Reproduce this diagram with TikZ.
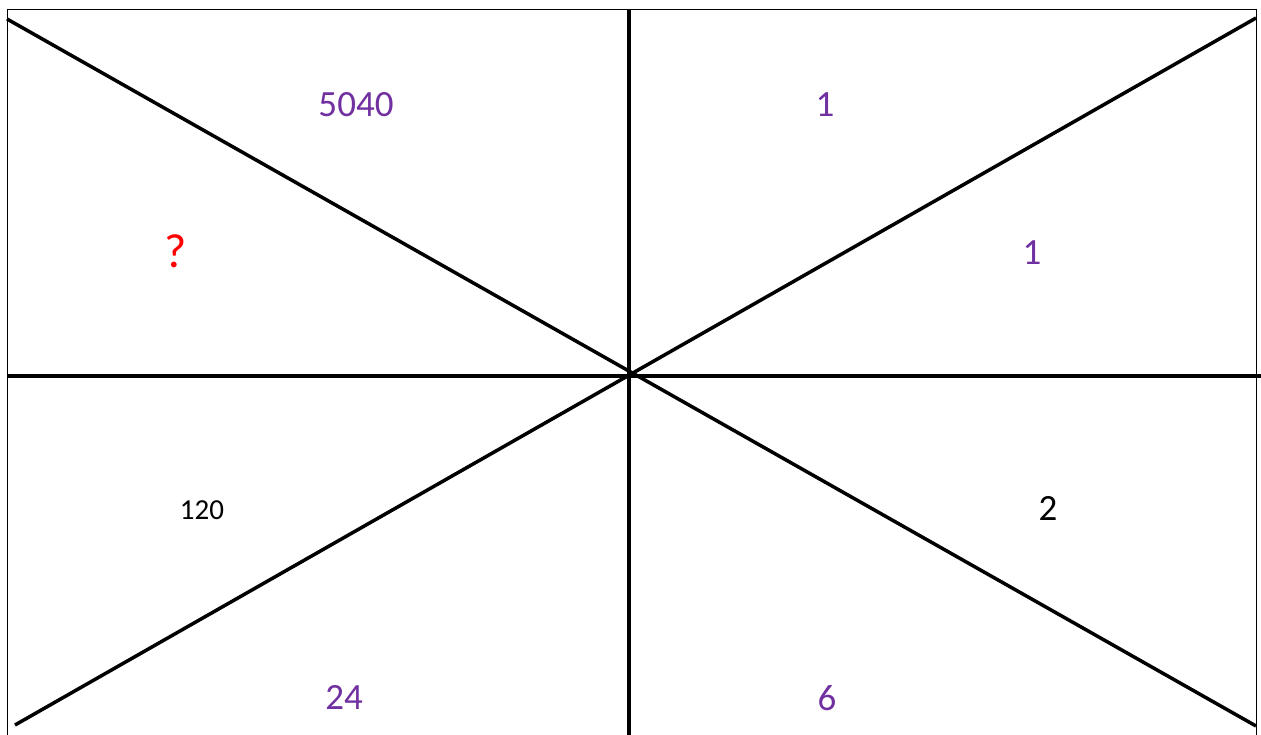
\documentclass[tikz,border=0pt]{standalone}
\usepackage{fontspec}
\setmainfont{Carlito}
\definecolor{purp}{HTML}{7030A0}
\begin{document}
\begin{tikzpicture}[x=1pt,y=-1pt,
  heavy/.style={line width=3.5pt},
  lbl/.style={font=\fontsize{37}{42}\selectfont, inner sep=0pt, anchor=center},
  big/.style={font=\fontsize{48}{52}\selectfont, inner sep=0pt, anchor=center},
  small/.style={font=\fontsize{29}{33}\selectfont, inner sep=0pt, anchor=center}]
\useasboundingbox (0,0) rectangle (1261,735);
\fill[white] (0,0) rectangle (1261,735);
\coordinate (tl) at (7,10);
\coordinate (tr) at (1256,10);
\coordinate (bl) at (7,740);
\coordinate (br) at (1256,740);
\draw[line width=1pt] (bl) -- (tl) -- (tr) -- (br);
\coordinate (d1a) at (7,19);
\coordinate (d1b) at (1256,726);
\coordinate (d2a) at (1256,18);
\coordinate (d2b) at (15,725);
\coordinate (ha) at (7,376);
\coordinate (hb) at (1261,376);
\coordinate (va) at (629,10);
\coordinate (vb) at (629,735);
\draw[heavy] (d1a) -- (d1b);
\draw[heavy] (d2a) -- (d2b);
\draw[heavy] (ha) -- (hb);
\draw[heavy] (va) -- (vb);
\node[lbl, text=purp] (n5040) at (356,105) {5040};
\node[lbl, text=purp] (n1a) at (825,105) {1};
\node[big, text=red] (nq) at (176,251) {?};
\node[lbl, text=purp] (n1b) at (1032,253) {1};
\node[small] (n120) at (202,510) {120};
\node[lbl] (n2) at (1048,508) {2};
\node[lbl, text=purp] (n24) at (344,697) {24};
\node[lbl, text=purp] (n6) at (827,698) {6};
\end{tikzpicture}
\end{document}
